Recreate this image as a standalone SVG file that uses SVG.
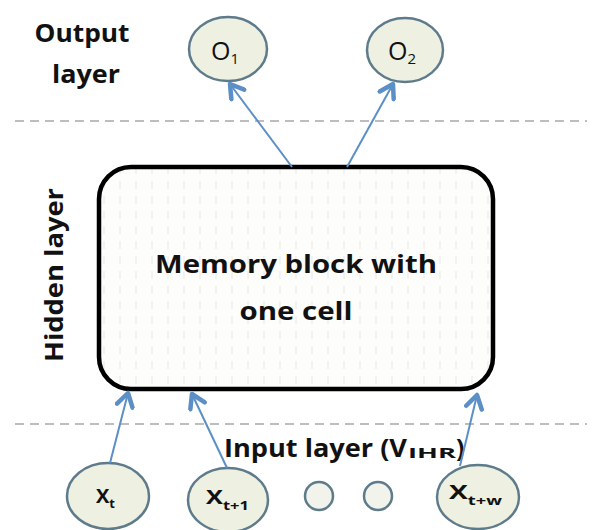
<svg xmlns="http://www.w3.org/2000/svg" width="600" height="530" viewBox="0 0 600 530">
<style>
.lbl{font-family:"Open Sans","Liberation Sans",sans-serif;font-weight:bold;fill:#111;}
.node{fill:#eef0e1;stroke:#5d7b8b;stroke-width:2.5;}
.small{fill:#f2f3ea;stroke:#5d7b8b;stroke-width:2.5;}
.nt{font-family:"Open Sans","Liberation Sans",sans-serif;fill:#111;}
.xt{font-family:"Open Sans","Liberation Sans",sans-serif;font-weight:bold;fill:#111;}
.sep{stroke:#bdbdbd;stroke-width:2;stroke-dasharray:9 6;fill:none;}
.arr{stroke:#5b8fc6;stroke-width:2;fill:none;marker-end:url(#head);}
</style>
<defs>
<marker id="head" markerUnits="userSpaceOnUse" viewBox="0 0 20 20" refX="16" refY="10" markerWidth="20" markerHeight="20" orient="auto">
<polyline points="3,2 16,10 3,18" fill="none" stroke="#5b8fc6" stroke-width="4.5" stroke-linejoin="round" stroke-linecap="round"/>
</marker>
<pattern id="dots" patternUnits="userSpaceOnUse" width="16" height="15">
<rect width="16" height="15" fill="#fdfdfb"/>
<line x1="8" y1="1" x2="8" y2="9" stroke="#ebebe6" stroke-width="1.2"/>
</pattern>
</defs>
<rect width="600" height="530" fill="#ffffff"/>

<g id="separators">
<line class="sep" x1="15" y1="121" x2="587" y2="121"/>
<line class="sep" x1="15" y1="424" x2="587" y2="424"/>
</g>

<g id="layer-labels">
<text class="lbl" x="82" y="42" font-size="25" text-anchor="middle" textLength="95" lengthAdjust="spacingAndGlyphs">Output</text>
<text class="lbl" x="86" y="83" font-size="25" text-anchor="middle" textLength="68" lengthAdjust="spacingAndGlyphs">layer</text>
<text class="lbl" font-size="25" text-anchor="middle" transform="translate(63,275) rotate(-90)" textLength="174" lengthAdjust="spacingAndGlyphs">Hidden layer</text>
<text class="lbl" x="224" y="457" font-size="25"><tspan textLength="183" lengthAdjust="spacingAndGlyphs">Input layer (V</tspan><tspan x="408" y="458" font-size="15" textLength="48" lengthAdjust="spacingAndGlyphs">IHR</tspan><tspan x="456" y="457">)</tspan></text>
</g>

<g id="memory-block">
<rect x="99" y="167" width="394" height="222" rx="32" ry="32" fill="url(#dots)" stroke="#000" stroke-width="4.5"/>
<text class="lbl" x="296" y="273" font-size="25" text-anchor="middle" textLength="282" lengthAdjust="spacingAndGlyphs">Memory block with</text>
<text class="lbl" x="296" y="320" font-size="25" text-anchor="middle" textLength="113" lengthAdjust="spacingAndGlyphs">one cell</text>
</g>

<g id="O1">
<ellipse class="node" cx="228" cy="49" rx="39" ry="32"/>
<text class="nt" x="211" y="60" font-size="25">O<tspan font-size="15" dy="4">1</tspan></text>
</g>
<g id="O2">
<ellipse class="node" cx="405" cy="50" rx="38" ry="32"/>
<text class="nt" x="388" y="60" font-size="25">O<tspan font-size="15" dy="4">2</tspan></text>
</g>

<g id="Xt">
<ellipse class="node" cx="108" cy="496" rx="41" ry="33"/>
<text class="xt" x="96" y="503" font-size="20">X<tspan font-size="13" dy="5">t</tspan></text>
</g>
<g id="Xt1">
<ellipse class="node" cx="228" cy="500" rx="40" ry="32"/>
<text class="xt" x="206" y="504" font-size="20" textLength="43" lengthAdjust="spacingAndGlyphs">X<tspan font-size="13" dy="6">t+1</tspan></text>
</g>
<g id="dot1">
<circle class="small" cx="319" cy="496" r="14"/>
</g>
<g id="dot2">
<circle class="small" cx="378" cy="496" r="14"/>
</g>
<g id="Xtw">
<ellipse class="node" cx="478" cy="497" rx="41" ry="32"/>
<text class="xt" x="449" y="499" font-size="20" textLength="53" lengthAdjust="spacingAndGlyphs">X<tspan font-size="13" dy="6">t+w</tspan></text>
</g>

<g id="connectors">
<line class="arr" x1="292" y1="167" x2="230" y2="84"/>
<line class="arr" x1="347" y1="167" x2="393" y2="84"/>
<line class="arr" x1="110" y1="463" x2="128" y2="393"/>
<line class="arr" x1="227" y1="468" x2="192" y2="394"/>
<line class="arr" x1="460" y1="466" x2="477" y2="395"/>
</g>
</svg>
